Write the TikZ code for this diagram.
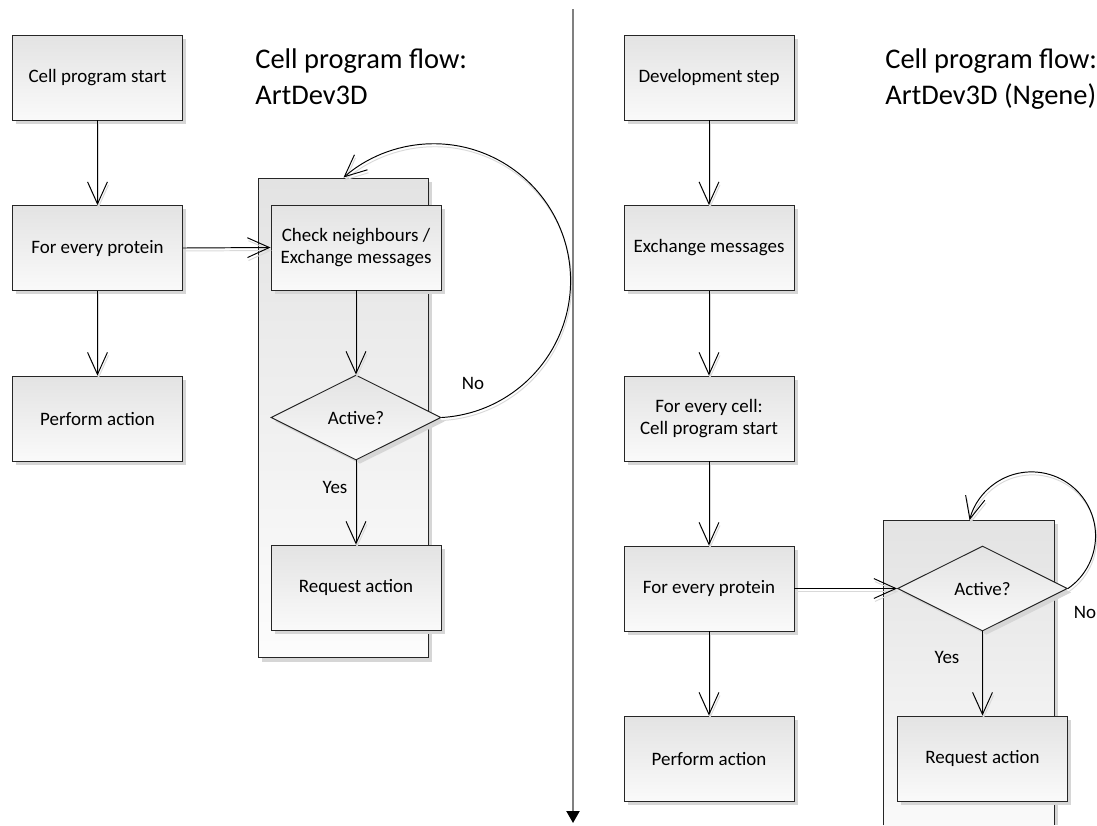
\documentclass[tikz,border=0pt]{standalone}
\usepackage{fontspec}
\setmainfont{Carlito}
\usetikzlibrary{arrows.meta,shapes.geometric,shadows}

\begin{document}
\begin{tikzpicture}[x=0.02cm,y=-0.02cm,
  font=\fontsize{10.8}{13}\selectfont,
  boxshadow/.style={general shadow={fill=black!16, shadow xshift=2.2pt, shadow yshift=-2.2pt}},
  boxshade/.style={top color=black!11, bottom color=black!2, draw=black!85, line width=0.55pt, boxshadow},
  stepbox/.style={boxshade, rectangle, minimum width=3.4cm, minimum height=1.7cm, inner sep=0pt, align=center},
  decide/.style={boxshade, diamond, minimum width=3.4cm, minimum height=1.7cm, inner sep=0pt},
  group/.style={rectangle, top color=black!11, bottom color=black!1, draw=black!85, line width=0.55pt, boxshadow, inner sep=0pt},
  conn/.style={line width=0.55pt, -{Straight Barb[length=12.5pt,width=11.3pt]},
    preaction={draw=black!15, line width=0.55pt, transform canvas={xshift=0.6pt,yshift=-1.7pt}}},
  title/.style={font=\fontsize{16.2}{20.4}\selectfont, anchor=base west, inner sep=0pt},
  lbl/.style={inner sep=0pt}
]
\useasboundingbox (0,0) rectangle (1097,825);

% ---------- left flow ----------
\node[group, minimum width=3.4cm, minimum height=9.6cm] (c1) at (343,418) {};

\node[stepbox] (b1) at (97.5,77.5) {Cell program start};
\node[stepbox] (b2) at (97.5,248) {For every protein};
\node[stepbox] (b3) at (97.5,418.5) {Perform action};

\node[stepbox] (chk) at (356,247.5) {Check neighbours /\\Exchange messages};
\node[decide] (d1) at (356,417.5) {Active?};
\node[stepbox] (q1) at (356,587.5) {Request action};

\node[title] (t1a) at (255,68) {Cell program flow:};
\node[title] (t1b) at (255,104) {ArtDev3D};

\node[lbl] (y1) at (335,487) {Yes};
\node[lbl] (n1) at (473,383) {No};

\draw[conn] (b1.south) -- (b2.north);
\draw[conn] (b2.south) -- (b3.north);
\draw[conn] (b2.east) -- (chk.west);
\draw[conn] (chk.south) -- (d1.north);
\draw[conn] (d1.south) -- (q1.north);
\draw[conn] (d1.east) arc[start angle=86.7, end angle=-131.1, radius=137];

% ---------- divider ----------
\coordinate (divtop) at (573,9);
\coordinate (divend) at (573,823);
\draw[line width=1.1pt, draw=black!50, -{Triangle[length=6.8pt,width=7.4pt,color=black]}] (divtop) -- (divend);

% ---------- right flow ----------
\fill[black!16] (887,524) rectangle (1058,825);
\shade[top color=black!11, bottom color=black!2] (883,520) rectangle (1054,825);
\draw[black!85, line width=0.55pt] (883,825) -- (883,520) -- (1054,520) -- (1054,825);
\coordinate (c2top) at (968.5,520);

\node[stepbox] (r1) at (709,77.5) {Development step};
\node[stepbox] (r2) at (709,248) {Exchange messages};
\node[stepbox] (r3) at (709,418.5) {For every cell:\\Cell program start};
\node[stepbox] (r4) at (709,588.5) {For every protein};
\node[stepbox] (r5) at (709,758.5) {Perform action};

\node[decide] (d2) at (982.5,588.5) {Active?};
\node[stepbox] (q2) at (982.5,758.5) {Request action};

\node[title] (t2a) at (885,68) {Cell program flow:};
\node[title] (t2b) at (885,104) {ArtDev3D (Ngene)};

\node[lbl] (y2) at (947,657) {Yes};
\node[lbl] (n2) at (1085,612) {No};

\draw[conn] (r1.south) -- (r2.north);
\draw[conn] (r2.south) -- (r3.north);
\draw[conn] (r3.south) -- (r4.north);
\draw[conn] (r4.south) -- (r5.north);
\draw[conn] (r4.east) -- (d2.west);
\draw[conn] (d2.south) -- (q2.north);
\draw[conn] (d2.east) arc[start angle=55.3, end angle=-165.7, radius=64];
\end{tikzpicture}
\end{document}
